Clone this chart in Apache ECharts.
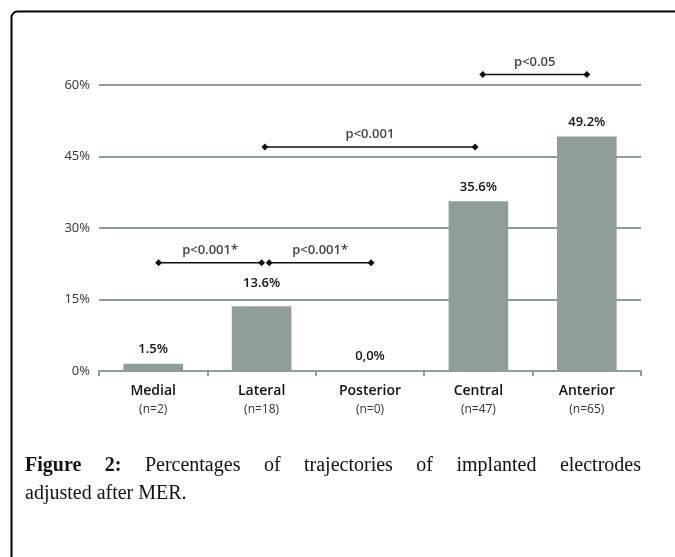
<!DOCTYPE html>
<html>
<head>
<meta charset="utf-8">
<script src="https://cdn.jsdelivr.net/npm/echarts@6/dist/echarts.min.js"></script>
<style>
	html, body { margin: 0; padding: 0; background: #fff; }
	#chart { width: 675px; height: 557px; }
</style>
</head>
<body>
<div id="chart"></div>
<script>
// categories and counts
var categories = ['Medial', 'Lateral', 'Posterior', 'Central', 'Anterior'];
var counts = ['n=2', 'n=18', 'n=0', 'n=47', 'n=65'];
// percentages
var percents = [1.5, 13.6, 0.0, 35.6, 49.2];
var barLabels = ['1.5%', '13.6%', '0,0%', '35.6%', '49.2%'];
// y ticks
var yMin = 0, yMax = 60, yStep = 15;

// significance brackets (x in category index units, y in %)
var annoStart = [0.05, 1.07, 1.03, 3.04];
var annoEnd = [1.00, 2.01, 2.97, 4.00];
var annoLevel = [22.7, 22.7, 47.0, 62.2];
var annoText = ['p<0.001*', 'p<0.001*', 'p<0.001', 'p<0.05'];

var gridColor = '#8d9c99';
var barColor = '#909e9b';

var captionLine1 = 'Percentages of trajectories of implanted electrodes';
var captionLine2 = 'adjusted after MER.';

function buildCaption() {
	var els = [];
	var ctx = document.createElement('canvas').getContext('2d');
	var size = 20;
	var fam = '"Liberation Serif", "DejaVu Serif", serif';
	var words = [{ t : 'Figure', b : true }, { t : '2:', b : true }];
	captionLine1.split(' ').forEach(function(w) {
		words.push({ t : w, b : false });
	});
	var left = 25, right = 641, total = 0;
	words.forEach(function(w) {
		ctx.font = (w.b ? 'bold ' : '') + size + 'px ' + fam;
		w.w = ctx.measureText(w.t).width;
		total += w.w;
	});
	var gap = (right - left - total) / (words.length - 1);
	var x = left;
	words.forEach(function(w) {
		els.push({
			type : 'text',
			left : x,
			top : 456,
			style : {
				text : w.t,
				font : (w.b ? 'bold ' : '') + size + 'px ' + fam,
				fill : '#111'
			}
		});
		x += w.w + gap;
	});
	els.push({
		type : 'text',
		left : left,
		top : 484,
		style : {
			text : captionLine2,
			font : size + 'px ' + fam,
			fill : '#111'
		}
	});
	return els;
}

var annoSeries = [];
for (var i = 0; i < annoText.length; i++) {
	annoSeries.push({
		type : 'line',
		xAxisIndex : 1,
		clip : false,
		symbol : 'diamond',
		symbolSize : 7,
		silent : true,
		itemStyle : { color : '#111' },
		lineStyle : { color : '#111', width : 1.5 },
		data : [[annoStart[i], annoLevel[i]], [annoEnd[i], annoLevel[i]]],
		z : 5
	});
	annoSeries.push({
		type : 'scatter',
		xAxisIndex : 1,
		clip : false,
		symbolSize : 0,
		silent : true,
		label : {
			show : true,
			position : 'top',
			distance : 6,
			formatter : annoText[i],
			fontFamily : 'Open Sans',
			fontSize : 13,
			fontWeight : 600,
			color : '#111'
		},
		data : [[(annoStart[i] + annoEnd[i]) / 2, annoLevel[i]]],
		z : 5
	});
}

var barData = percents.map(function(v, i) {
	return {
		value : v,
		label : { distance : i === 1 ? 16 : 8 }
	};
});

var option = {
	animation : false,
	backgroundColor : '#fff',
	grid : {
		left : 99,
		right : 34,
		top : 85,
		bottom : 186
	},
	xAxis : [ {
		type : 'category',
		data : categories,
		axisLine : { lineStyle : { color : gridColor, width : 2 } },
		axisTick : { show : true, length : 5, lineStyle : { color : gridColor, width : 2 } },
		axisLabel : {
			margin : 10,
			formatter : function(v, idx) {
				return '{a|' + v + '}\n{b|(' + counts[idx] + ')}';
			},
			rich : {
				a : { fontFamily : 'Open Sans', fontSize : 14, fontWeight : 600, color : '#111', lineHeight : 20, letterSpacing : -0.5 },
				b : { fontFamily : 'Open Sans', fontSize : 12, color : '#333', lineHeight : 18 }
			}
		}
	}, {
		type : 'value',
		min : -0.5,
		max : 4.5,
		show : false
	} ],
	yAxis : {
		type : 'value',
		min : yMin,
		max : yMax,
		interval : yStep,
		axisLine : { show : false },
		axisTick : { show : false },
		axisLabel : {
			formatter : '{value}%',
			fontFamily : 'Open Sans',
			fontSize : 13,
			color : '#333',
			margin : 9
		},
		splitLine : { lineStyle : { color : gridColor, width : 2 } }
	},
	series : [ {
		type : 'bar',
		data : barData,
		barWidth : '55%',
		itemStyle : { color : barColor },
		label : {
			show : true,
			position : 'top',
			formatter : function(p) { return barLabels[p.dataIndex]; },
			fontFamily : 'Open Sans',
			fontSize : 13,
			fontWeight : 600,
			color : '#111'
		},
		z : 3
	} ].concat(annoSeries),
	graphic : [ {
		type : 'rect',
		shape : { x : 11.5, y : 11.5, width : 700, height : 600, r : 6 },
		style : { fill : 'none', stroke : '#000', lineWidth : 2 },
		silent : true
	} ].concat(buildCaption())
};

var myChart = echarts.init(document.getElementById('chart'));
myChart.setOption(option);
</script>
</body>
</html>
